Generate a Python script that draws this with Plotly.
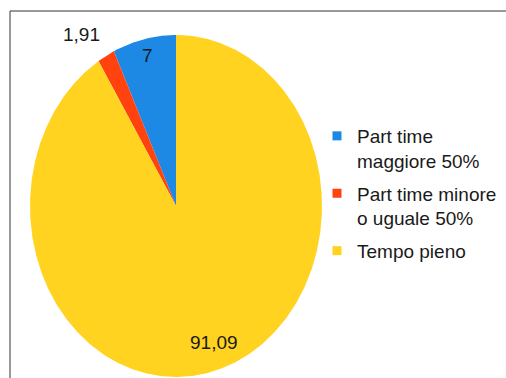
import numpy as np
import plotly.graph_objects as go

# Contract shares (percent)
categories = ["Part time<br>maggiore 50%", "Part time minore<br>o uguale 50%", "Tempo pieno"]
values = [7, 1.91, 91.09]
colors = ["#1E88E5", "#FF420E", "#FFD320"]

W, H = 506, 378
FONT = "Liberation Sans, Arial, sans-serif"

fig = go.Figure()

total = float(sum(values))
start = 90.0  # first slice starts at 12 o'clock, going counter-clockwise
angles = []
for v, c in zip(values, colors):
    span = 360.0 * v / total
    th = np.radians(np.linspace(start, start + span, max(int(span * 2), 4)))
    xs = np.concatenate([[0.0], np.cos(th), [0.0]])
    ys = np.concatenate([[0.0], np.sin(th), [0.0]])
    fig.add_trace(go.Scatter(x=xs, y=ys, fill="toself", fillcolor=c, mode="lines",
                             line=dict(width=0, color=c), showlegend=False,
                             hoverinfo="skip"))
    angles.append((start, start + span))
    start += span

# legend entries, one group each so the group gap separates them
for i, (name, c) in enumerate(zip(categories, colors)):
    fig.add_trace(go.Scatter(x=[None], y=[None], mode="markers", name=name,
                             legendgroup=f"g{i}",
                             marker=dict(symbol="square", size=9, color=c)))

def fmt(v):
    return f"{v:g}".replace(".", ",")

# value labels
label_style = dict(showarrow=False, font=dict(family=FONT, size=19, color="#1a1a1a"))
# blue slice (inside)
a0, a1 = angles[0]
m = np.radians((a0 + a1) / 2)
fig.add_annotation(x=0.9 * np.cos(m), y=0.9 * np.sin(m), text=fmt(values[0]), **label_style)
# red slice (outside)
a0, a1 = angles[1]
m = np.radians((a0 + a1) / 2)
fig.add_annotation(x=1.14 * np.cos(m), y=1.14 * np.sin(m), text=fmt(values[1]),
                   xanchor="right", yanchor="middle", xshift=6, **label_style)
# yellow slice (inside)
a0, a1 = angles[2]
m = np.radians((a0 + a1) / 2)
fig.add_annotation(x=0.83 * np.cos(m), y=0.83 * np.sin(m), text=fmt(values[2]),
                   xshift=5, **label_style)

# map the unit pie into an ellipse via axis ranges
cx, cy, rx, ry = 176.0, 206.0, 146.0, 171.0
fig.update_xaxes(range=[(0 - cx) / rx, (W - cx) / rx], visible=False, fixedrange=True)
fig.update_yaxes(range=[(cy - H) / ry, cy / ry], visible=False, fixedrange=True)

# outer frame
fig.add_shape(type="rect", xref="paper", yref="paper",
              x0=10 / W, y0=-0.2, x1=1.2, y1=1 - 11 / H,
              line=dict(color="#333333", width=1))

fig.update_layout(
    width=W, height=H,
    margin=dict(l=0, r=0, t=0, b=0, autoexpand=False),
    paper_bgcolor="white", plot_bgcolor="white",
    showlegend=True,
    legend=dict(x=317 / W, y=1 - 117 / H, xanchor="left", yanchor="top",
                font=dict(family=FONT, size=19, color="#1a1a1a"),
                valign="top", itemwidth=30, bgcolor="rgba(0,0,0,0)",
                tracegroupgap=5),
)

fig.write_html("out.html")
